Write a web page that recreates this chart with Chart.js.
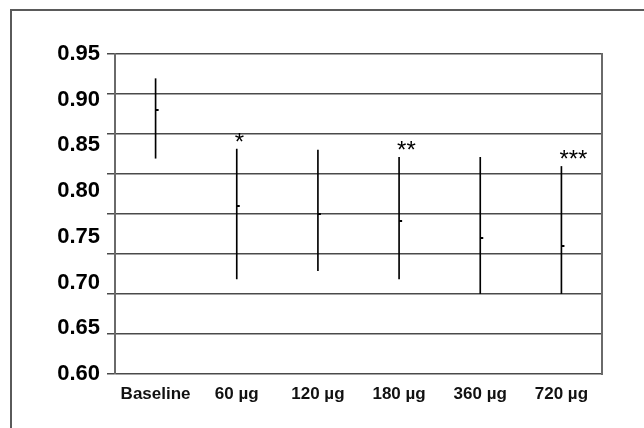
<!DOCTYPE html>
<html>
<head>
<meta charset="utf-8">
<script src="https://cdn.jsdelivr.net/npm/chart.js@4.4.0/dist/chart.umd.min.js"></script>
<style>
    body { margin: 0; background: #fff; overflow: hidden; }
    #wrap { position: relative; width: 644px; height: 428px; }
    #frame {
        position: absolute; left: 10px; top: 9px; width: 634px; height: 419px;
        border-top: 2px solid #5a5a5a; border-left: 2px solid #5a5a5a;
        box-sizing: border-box;
    }
    canvas { position: absolute; left: 0; top: 0; }
</style>
</head>
<body>
<div id="wrap">
    <div id="frame"></div>
    <canvas id="chart"></canvas>
</div>
<script>
// Doses and error-bar values
const doses = ['Baseline', '60 µg', '120 µg', '180 µg', '360 µg', '720 µg'];
const means = [0.889, 0.784, 0.775, 0.767, 0.749, 0.740];
const lows  = [0.836, 0.704, 0.713, 0.704, 0.688, 0.688];
const highs = [0.923, 0.846, 0.845, 0.837, 0.837, 0.827];
const stars = ['', '*', '', '**', '', '***'];

// y tick labels (the grid lines in the figure use a different spacing)
const yMin = 0.60;
const yMax = 0.95;
const yLabelStep = 0.05;
const gridLineCount = 9;

const FONT = '"Liberation Sans", Arial, Helvetica, sans-serif';

// small mark to the right of each bar for the mean
const meanMark = document.createElement('canvas');
meanMark.width = 8;
meanMark.height = 2;
const mctx = meanMark.getContext('2d');
mctx.fillStyle = '#000';
mctx.fillRect(4, 0, 3, 2);

const starPlugin = {
    id: 'stars',
    afterDatasetsDraw(chart) {
        const ctx = chart.ctx;
        const x = chart.scales.x;
        const y = chart.scales.y;
        ctx.save();
        ctx.fillStyle = '#000';
        ctx.font = '24px ' + FONT;
        ctx.textAlign = 'left';
        ctx.textBaseline = 'alphabetic';
        stars.forEach((s, i) => {
            if (!s) return;
            ctx.fillText(s, x.getPixelForValue(i) - 2, y.getPixelForValue(highs[i]) + 1);
        });
        ctx.restore();
    }
};

new Chart(document.getElementById('chart'), {
    data: {
        labels: doses,
        datasets: [{
            type: 'bar',
            data: lows.map((l, i) => [l, highs[i]]),
            backgroundColor: '#000',
            barThickness: 1,
            yAxisID: 'y'
        }, {
            type: 'line',
            data: means,
            showLine: false,
            pointStyle: meanMark,
            pointRadius: 4,
            yAxisID: 'y'
        }]
    },
    options: {
        responsive: true,
        maintainAspectRatio: false,
        animation: false,
        layout: { padding: { left: 0, top: 54, right: 42, bottom: 0 } },
        plugins: {
            legend: { display: false },
            tooltip: { enabled: false }
        },
        scales: {
            x: {
                grid: { display: false, drawTicks: false },
                border: { display: false },
                ticks: {
                    padding: 10,
                    color: '#111',
                    font: { family: FONT, size: 17, weight: 'bold' }
                },
                afterFit: s => { s.height = 54; }
            },
            y: {
                position: 'left',
                weight: 0,
                min: yMin,
                max: yMax,
                ticks: { display: false, count: gridLineCount },
                grid: { color: '#4a4a4a', lineWidth: 1.5, tickLength: 8 },
                border: { color: '#6a6a6a', width: 2 },
                afterFit: s => { s.width = 8; }
            },
            yLabels: {
                position: 'left',
                weight: 1,
                min: yMin,
                max: yMax,
                ticks: {
                    stepSize: yLabelStep,
                    padding: 7,
                    color: '#000',
                    font: { family: FONT, size: 22, weight: 'bold' },
                    callback: v => v.toFixed(2)
                },
                grid: { display: false, drawTicks: false },
                border: { display: false },
                afterFit: s => { s.width = 107; }
            },
            yRight: {
                position: 'right',
                min: yMin,
                max: yMax,
                ticks: { display: false },
                grid: { display: false, drawTicks: false },
                border: { display: true, color: '#6a6a6a', width: 2 },
                afterFit: s => { s.width = 0; }
            }
        }
    },
    plugins: [starPlugin]
});
</script>
</body>
</html>
